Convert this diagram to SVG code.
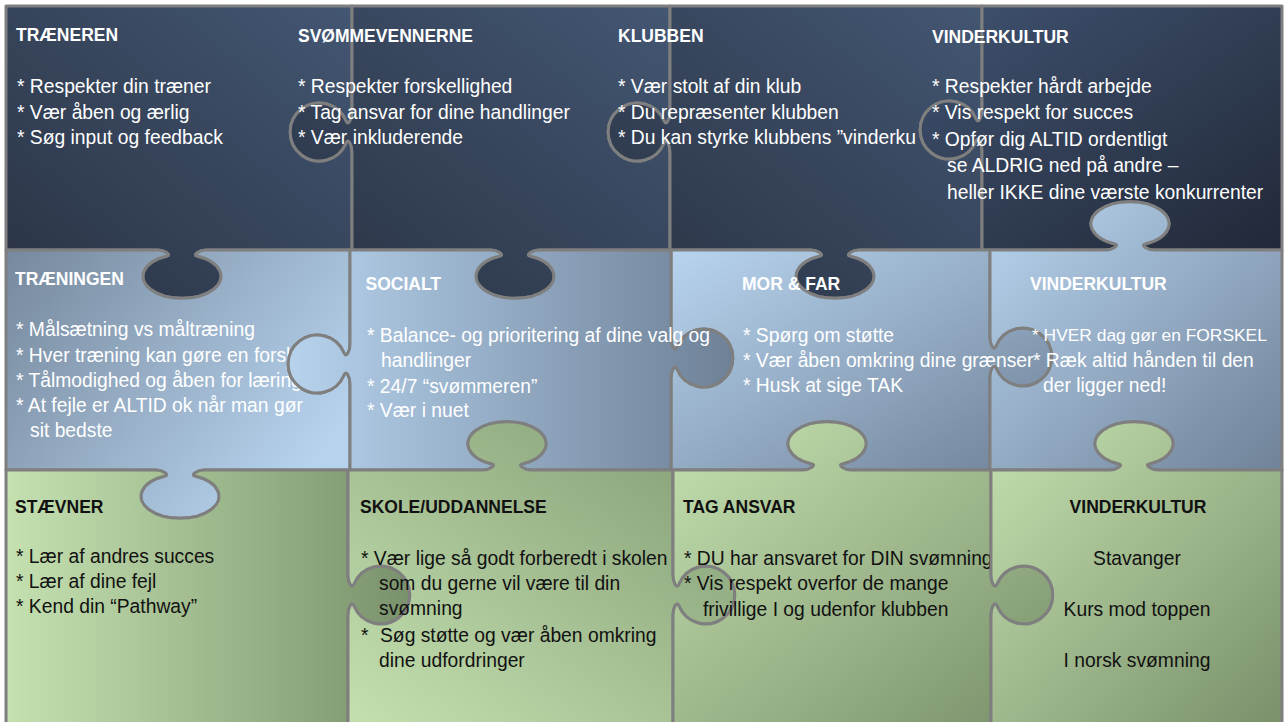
<svg xmlns="http://www.w3.org/2000/svg" width="1287" height="722" viewBox="0 0 1287 722">
<style>
.piece{stroke:#7f7f7f;stroke-width:3;stroke-linejoin:round}
text{font-family:"Liberation Sans",Arial,sans-serif}
.h{font-weight:bold;font-size:17.5px}
.b{font-size:19.3px}
.w{fill:#ffffff}
.k{fill:#111111}
.c{text-anchor:middle}
</style>
<defs>
<linearGradient id="gNavy" x1="0" y1="1" x2="1" y2="0"><stop offset="0" stop-color="#2a3344"/><stop offset="1" stop-color="#435672"/></linearGradient>
<linearGradient id="gNavy4" x1="0" y1="0" x2="1" y2="1"><stop offset="0" stop-color="#405270"/><stop offset="1" stop-color="#212938"/></linearGradient>
<linearGradient id="gBlueA" x1="0" y1="0" x2="1" y2="0.6"><stop offset="0" stop-color="#76889c"/><stop offset="1" stop-color="#b6d2ed"/></linearGradient>
<linearGradient id="gBlueB" x1="0" y1="0" x2="1" y2="0"><stop offset="0" stop-color="#b6d2ed"/><stop offset="1" stop-color="#6e8197"/></linearGradient>
<linearGradient id="gBlueC" x1="0" y1="0" x2="1" y2="1"><stop offset="0" stop-color="#b8d4ef"/><stop offset="1" stop-color="#6f8298"/></linearGradient>
<linearGradient id="gGreenA" x1="0" y1="0" x2="1" y2="0"><stop offset="0" stop-color="#c5e1b0"/><stop offset="1" stop-color="#7a926c"/></linearGradient>
<linearGradient id="gGreenB" x1="0" y1="1" x2="1" y2="0"><stop offset="0" stop-color="#c4e0af"/><stop offset="1" stop-color="#839c74"/></linearGradient>
<linearGradient id="gGreenC" x1="0" y1="0" x2="1" y2="1"><stop offset="0" stop-color="#c4e0af"/><stop offset="1" stop-color="#79906a"/></linearGradient>
</defs>
<rect x="0" y="0" width="1287" height="722" fill="#ffffff"/>

<g id="traeneren">
<path class="piece" fill="url(#gNavy)" d="M6,6 L352,6 L352,112 c0,7 -3.7,14.5 -6,9 a29,29 0 1,0 0,22 c2.3,-5.5 6,2 6,9 L352,250 L206,250 c-6,0 -13.9,4.9 -9,6 a39,22 0 1,1 -30,0 c4.9,-1.1 -3,-6 -9,-6 L6,250 Z"/>
<text class="h w" x="16" y="41">TRÆNEREN</text>
<text class="b w" x="17" y="93">* Respekter din træner</text>
<text class="b w" x="17" y="118.5">* Vær åben og ærlig</text>
<text class="b w" x="17" y="144">* Søg input og feedback</text>
</g>

<g id="svoemmevennerne">
<path class="piece" fill="url(#gNavy)" d="M352,6 L670,6 L670,112 c0,7 -3.7,14.5 -6,9 a29,29 0 1,0 0,22 c2.3,-5.5 6,2 6,9 L670,250 L539,250 c-6,0 -13.9,4.9 -9,6 a39,22 0 1,1 -30,0 c4.9,-1.1 -3,-6 -9,-6 L352,250 L352,152 c0,-7 -3.7,-14.5 -6,-9 a29,29 0 1,1 0,-22 c2.3,5.5 6,-2 6,-9 Z"/>
<text class="h w" x="298" y="41.5">SVØMMEVENNERNE</text>
<text class="b w" x="298" y="93">* Respekter forskellighed</text>
<text class="b w" x="298" y="118.5">* Tag ansvar for dine handlinger</text>
<text class="b w" x="298" y="144">* Vær inkluderende</text>
</g>

<g id="klubben">
<path class="piece" fill="url(#gNavy)" d="M670,6 L982,6 L982,110 c0,7 -3.7,14.5 -6,9 a29,29 0 1,0 0,22 c2.3,-5.5 6,2 6,9 L982,250 L859,250 c-6,0 -13.9,4.9 -9,6 a39,22 0 1,1 -30,0 c4.9,-1.1 -3,-6 -9,-6 L670,250 L670,152 c0,-7 -3.7,-14.5 -6,-9 a29,29 0 1,1 0,-22 c2.3,5.5 6,-2 6,-9 Z"/>
<text class="h w" x="618" y="41.5">KLUBBEN</text>
<text class="b w" x="618" y="93">* Vær stolt af din klub</text>
<text class="b w" x="618" y="118.5">* Du repræsenter klubben</text>
<text class="b w" x="618" y="144">* Du kan styrke klubbens ”vinderku</text>
</g>

<g id="vinderkultur-1">
<path class="piece" fill="url(#gNavy4)" d="M982,6 L1282,6 L1282,250 L1154,250 c-6,0 -13.9,-4.9 -9,-6 a39,22 0 1,0 -30,0 c4.9,1.1 -3,6 -9,6 L982,250 L982,150 c0,-7 -3.7,-14.5 -6,-9 a29,29 0 1,1 0,-22 c2.3,5.5 6,-2 6,-9 Z"/>
<text class="h w" x="932" y="42.5">VINDERKULTUR</text>
<text class="b w" x="932" y="93">* Respekter hårdt arbejde</text>
<text class="b w" x="932" y="119">* Vis respekt for succes</text>
<text class="b w" x="932" y="145.5">* Opfør dig ALTID ordentligt</text>
<text class="b w" x="947" y="172">se ALDRIG ned på andre –</text>
<text class="b w" x="947" y="198.5">heller IKKE dine værste konkurrenter</text>
</g>

<g id="traeningen">
<path class="piece" fill="url(#gBlueA)" d="M6,250 L158,250 c6,0 13.9,4.9 9,6 a39,22 0 1,0 30,0 c-4.9,-1.1 3,-6 9,-6 L350,250 L350,344 c0,7 -3.7,14.5 -6,9 a29,29 0 1,0 0,22 c2.3,-5.5 6,2 6,9 L350,470 L204,470 c-6,0 -13.9,4.9 -9,6 a39,22 0 1,1 -30,0 c4.9,-1.1 -3,-6 -9,-6 L6,470 Z"/>
<text class="h w" x="15" y="285">TRÆNINGEN</text>
<text class="b w" x="16" y="336">* Målsætning vs måltræning</text>
<text class="b w" x="16" y="361.5">* Hver træning kan gøre en forskel</text>
<text class="b w" x="16" y="386.5">* Tålmodighed og åben for læring</text>
<text class="b w" x="16" y="412">* At fejle er ALTID ok når man gør</text>
<text class="b w" x="30" y="437">sit bedste</text>
</g>

<g id="mor-og-far">
<path class="piece" fill="url(#gBlueC)" d="M671,250 L811,250 c6,0 13.9,4.9 9,6 a39,22 0 1,0 30,0 c-4.9,-1.1 3,-6 9,-6 L990,250 L990,337 c0,7 3.7,14.5 6,9 a29,29 0 1,1 0,22 c-2.3,-5.5 -6,2 -6,9 L990,470 L851,470 c-6,0 -13.9,-4.9 -9,-6 a39,22 0 1,0 -30,0 c4.9,1.1 -3,6 -9,6 L671,470 L671,378 c0,-7 3.7,-14.5 6,-9 a29,29 0 1,0 0,-22 c-2.3,5.5 -6,-2 -6,-9 Z"/>
<text class="h w" x="742" y="290">MOR &amp; FAR</text>
<text class="b w" x="743" y="341.5">* Spørg om støtte</text>
<text class="b w" x="743" y="366.5">* Vær åben omkring dine grænser</text>
<text class="b w" x="743" y="392">* Husk at sige TAK</text>
</g>

<g id="socialt">
<path class="piece" fill="url(#gBlueB)" d="M350,250 L491,250 c6,0 13.9,4.9 9,6 a39,22 0 1,0 30,0 c-4.9,-1.1 3,-6 9,-6 L671,250 L671,338 c0,7 3.7,14.5 6,9 a29,29 0 1,1 0,22 c-2.3,-5.5 -6,2 -6,9 L671,470 L531,470 c-6,0 -13.9,-4.9 -9,-6 a39,22 0 1,0 -30,0 c4.9,1.1 -3,6 -9,6 L350,470 L350,384 c0,-7 -3.7,-14.5 -6,-9 a29,29 0 1,1 0,-22 c2.3,5.5 6,-2 6,-9 Z"/>
<text class="h w" x="365.5" y="290">SOCIALT</text>
<text class="b w" x="367" y="341.5">* Balance- og prioritering af dine valg og</text>
<text class="b w" x="381" y="366.5">handlinger</text>
<text class="b w" x="367" y="392.5">* 24/7 “svømmeren”</text>
<text class="b w" x="367" y="417">* Vær i nuet</text>
</g>

<g id="vinderkultur-2">
<path class="piece" fill="url(#gBlueC)" d="M990,250 L1106,250 c6,0 13.9,-4.9 9,-6 a39,22 0 1,1 30,0 c-4.9,1.1 3,6 9,6 L1282,250 L1282,470 L1158,470 c-6,0 -13.9,-4.9 -9,-6 a39,22 0 1,0 -30,0 c4.9,1.1 -3,6 -9,6 L990,470 L990,377 c0,-7 3.7,-14.5 6,-9 a29,29 0 1,0 0,-22 c-2.3,5.5 -6,-2 -6,-9 Z"/>
<text class="h w" x="1030" y="290">VINDERKULTUR</text>
<text class="w" x="1032" y="341" font-size="17.4px">* HVER dag gør en FORSKEL</text>
<text class="b w" x="1033" y="366.5">* Ræk altid hånden til den</text>
<text class="b w" x="1043" y="391.5">der ligger ned!</text>
</g>

<g id="staevner">
<path class="piece" fill="url(#gGreenA)" d="M6,470 L156,470 c6,0 13.9,4.9 9,6 a39,22 0 1,0 30,0 c-4.9,-1.1 3,-6 9,-6 L348,470 L348,575 c0,7 3.7,14.5 6,9 a29,29 0 1,1 0,22 c-2.3,-5.5 -6,2 -6,9 L348,725 L6,725 Z"/>
<text class="h k" x="15" y="512.5">STÆVNER</text>
<text class="b k" x="16" y="563">* Lær af andres succes</text>
<text class="b k" x="16" y="588">* Lær af dine fejl</text>
<text class="b k" x="16" y="613">* Kend din “Pathway”</text>
</g>

<g id="skole-uddannelse">
<path class="piece" fill="url(#gGreenB)" d="M348,470 L483,470 c6,0 13.9,-4.9 9,-6 a39,22 0 1,1 30,0 c-4.9,1.1 3,6 9,6 L673,470 L673,575 c0,7 3.7,14.5 6,9 a29,29 0 1,1 0,22 c-2.3,-5.5 -6,2 -6,9 L673,725 L348,725 L348,615 c0,-7 3.7,-14.5 6,-9 a29,29 0 1,0 0,-22 c-2.3,5.5 -6,-2 -6,-9 Z"/>
<text class="h k" x="360" y="513">SKOLE/UDDANNELSE</text>
<text class="b k" x="361" y="564.5">* Vær lige så godt forberedt i skolen</text>
<text class="b k" x="379" y="589.5">som du gerne vil være til din</text>
<text class="b k" x="379" y="615">svømning</text>
<text class="b k" y="641.5"><tspan x="361">*</tspan><tspan x="380">Søg støtte og vær åben omkring</tspan></text>
<text class="b k" x="379" y="666.5">dine udfordringer</text>
</g>

<g id="tag-ansvar">
<path class="piece" fill="url(#gGreenC)" d="M673,470 L803,470 c6,0 13.9,-4.9 9,-6 a39,22 0 1,1 30,0 c-4.9,1.1 3,6 9,6 L991,470 L991,575 c0,7 3.7,14.5 6,9 a29,29 0 1,1 0,22 c-2.3,-5.5 -6,2 -6,9 L991,725 L673,725 L673,615 c0,-7 3.7,-14.5 6,-9 a29,29 0 1,0 0,-22 c-2.3,5.5 -6,-2 -6,-9 Z"/>
<text class="h k" x="683" y="513">TAG ANSVAR</text>
<text class="b k" x="684" y="564.5">* DU har ansvaret for DIN svømning</text>
<text class="b k" x="684" y="590">* Vis respekt overfor de mange</text>
<text class="b k" x="703" y="615.5">frivillige I og udenfor klubben</text>
</g>

<g id="vinderkultur-3">
<path class="piece" fill="url(#gGreenC)" d="M991,470 L1110,470 c6,0 13.9,-4.9 9,-6 a39,22 0 1,1 30,0 c-4.9,1.1 3,6 9,6 L1282,470 L1282,725 L991,725 L991,615 c0,-7 3.7,-14.5 6,-9 a29,29 0 1,0 0,-22 c-2.3,5.5 -6,-2 -6,-9 Z"/>
<text class="h k c" x="1138" y="513">VINDERKULTUR</text>
<text class="b k c" x="1137" y="565">Stavanger</text>
<text class="b k c" x="1137" y="615.5">Kurs mod toppen</text>
<text class="b k c" x="1137" y="666.5">I norsk svømning</text>
</g>

<g id="connectors"></g>
</svg>
